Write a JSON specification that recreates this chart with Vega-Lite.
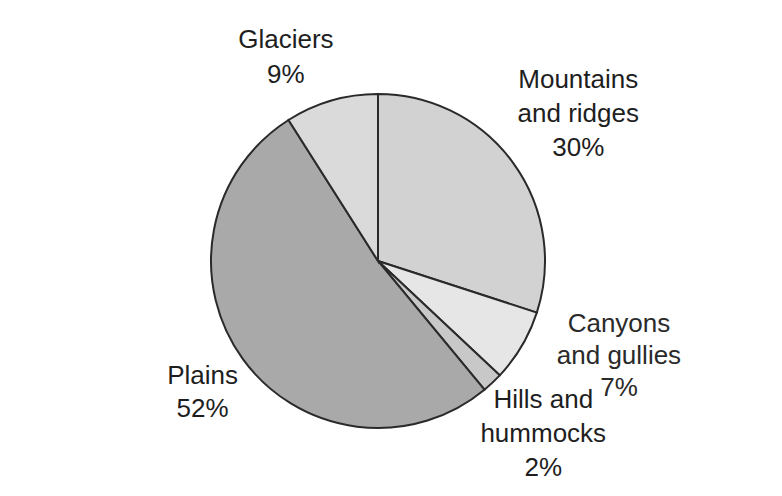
{
  "$schema": "https://vega.github.io/schema/vega-lite/v6.json",
  "autosize": {"type": "none"},
  "width": 756,
  "height": 470,
  "padding": {"left": 0, "top": 26, "right": 26, "bottom": 0},
  "background": "white",
  "config": {"view": {"stroke": null}},
  "data": {
    "values": [
      {"category": "Mountains and ridges", "rank": 1, "value": 30, "label": "Mountains\nand ridges\n30%"},
      {"category": "Canyons and gullies", "rank": 2, "value": 7, "label": "Canyons\nand gullies\n7%"},
      {"category": "Hills and hummocks", "rank": 3, "value": 2, "label": "Hills and\nhummocks\n2%"},
      {"category": "Plains", "rank": 4, "value": 52, "label": "Plains\n52%"},
      {"category": "Glaciers", "rank": 5, "value": 9, "label": "Glaciers\n9%"}
    ]
  },
  "encoding": {
    "theta": {"field": "value", "type": "quantitative", "stack": true},
    "order": {"field": "rank", "type": "quantitative"}
  },
  "layer": [
    {
      "mark": {"type": "arc", "radius": 167, "stroke": "#2a2a2a", "strokeWidth": 2},
      "encoding": {
        "color": {
          "field": "category",
          "type": "nominal",
          "legend": null,
          "scale": {
            "domain": ["Mountains and ridges", "Canyons and gullies", "Hills and hummocks", "Plains", "Glaciers"],
            "range": ["#d2d2d2", "#e6e6e6", "#c8c8c8", "#a9a9a9", "#dadada"]
          }
        }
      }
    },
    {
      "mark": {"type": "text", "radius": 250, "dx": -2, "dy": -34, "align": "center", "baseline": "middle", "lineBreak": "\n", "lineHeight": 34, "font": "Liberation Sans", "fontSize": 26, "fill": "#1e1e1e"},
      "encoding": {"text": {"condition": {"test": "datum.category === 'Mountains and ridges'", "field": "label"}, "value": ""}}
    },
    {
      "mark": {"type": "text", "radius": 187, "dx": 80, "dy": -32, "align": "center", "baseline": "middle", "lineBreak": "\n", "lineHeight": 32, "font": "Liberation Sans", "fontSize": 26, "fill": "#2a2a2a"},
      "encoding": {"text": {"condition": {"test": "datum.category === 'Canyons and gullies'", "field": "label"}, "value": ""}}
    },
    {
      "mark": {"type": "text", "radius": 237, "dx": 3, "dy": -34, "align": "center", "baseline": "middle", "lineBreak": "\n", "lineHeight": 34, "font": "Liberation Sans", "fontSize": 26, "fill": "#1e1e1e"},
      "encoding": {"text": {"condition": {"test": "datum.category === 'Hills and hummocks'", "field": "label"}, "value": ""}}
    },
    {
      "mark": {"type": "text", "radius": 223, "dx": 5, "dy": -16, "align": "center", "baseline": "middle", "lineBreak": "\n", "lineHeight": 33, "font": "Liberation Sans", "fontSize": 26, "fill": "#1e1e1e"},
      "encoding": {"text": {"condition": {"test": "datum.category === 'Plains'", "field": "label"}, "value": ""}}
    },
    {
      "mark": {"type": "text", "radius": 212, "dx": -33, "dy": -17, "align": "center", "baseline": "middle", "lineBreak": "\n", "lineHeight": 35, "font": "Liberation Sans", "fontSize": 26, "fill": "#1e1e1e"},
      "encoding": {"text": {"condition": {"test": "datum.category === 'Glaciers'", "field": "label"}, "value": ""}}
    }
  ]
}
